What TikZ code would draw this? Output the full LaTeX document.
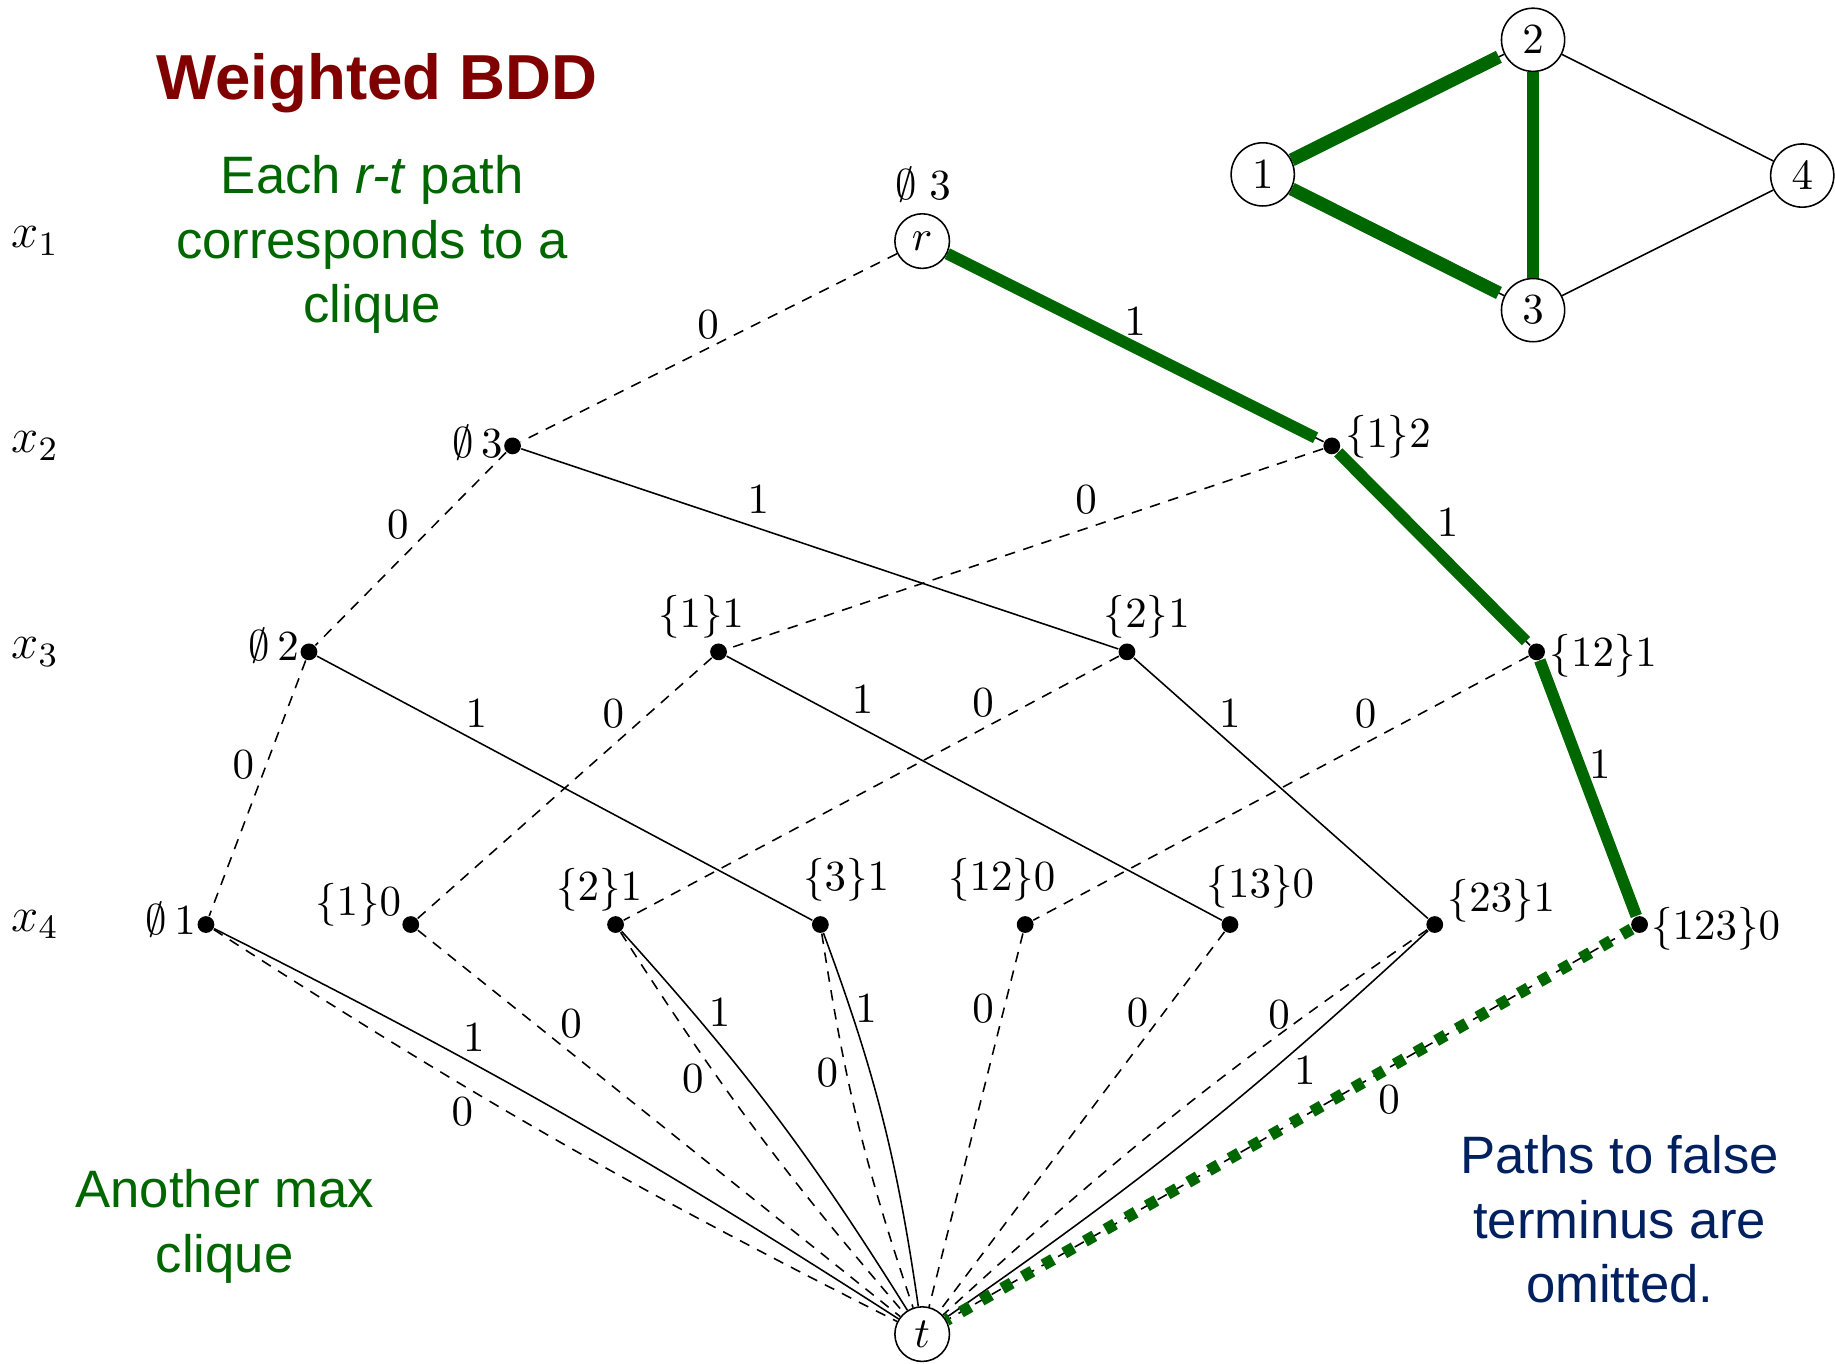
\RequirePackage{fix-cm}
\documentclass[tikz,border=0pt]{standalone}
\usepackage{fontspec}
\newfontfamily\arial{Liberation Sans}
\definecolor{dred}{RGB}{128,0,0}
\definecolor{hgreen}{RGB}{0,102,0}
\definecolor{navy}{RGB}{0,32,96}
\newcommand{\bddf}{\fontsize{11}{13}\selectfont}
\newcommand{\varf}{\fontsize{12.5}{14}\selectfont}
\newcommand{\txtf}{\fontsize{13.5}{16.5}\selectfont}
\begin{document}
\begin{tikzpicture}[x=0.3pt,y=-0.3pt,line width=0.4pt,
  bnode/.style={circle,fill=black,inner sep=0pt,minimum size=4.3pt},
  cnode/.style={circle,draw,inner sep=0pt,minimum size=14pt,font=\bddf},
  gnode/.style={circle,draw,inner sep=0pt,minimum size=16.2pt,font=\bddf},
  lbl/.style={inner sep=0pt,font=\bddf},
  varlbl/.style={inner sep=0pt,font=\varf},
  zero/.style={dash pattern=on 2.7pt off 2.2pt},
  hi/.style={line width=3pt,draw=hgreen},
  hidot/.style={line width=3pt,draw=hgreen,dash pattern=on 2.8pt off 3.3pt},
  txt/.style={inner sep=0pt,align=center,font=\arial\txtf}]
\useasboundingbox (0,0) rectangle (1568,1165);

% ---- texts
\node[inner sep=0pt,anchor=base,text=dred,font=\arial\bfseries\fontsize{16.3}{20}\selectfont] (title) at (322,85) {Weighted BDD};
\node[txt,text=hgreen] (note1) at (318,209) {Each \textit{r-t} path\\corresponds to a\\clique};
\node[txt,text=hgreen] (note2) at (192,1048) {Another max\\clique};
\node[txt,text=navy] (note3) at (1384,1042) {Paths to false\\terminus are\\omitted.};

% ---- variable labels
\node[varlbl] (v1) at (30,206) {$x_1$};
\node[varlbl] (v2) at (30,381) {$x_2$};
\node[varlbl] (v3) at (30,557) {$x_3$};
\node[varlbl] (v4) at (30,790) {$x_4$};

% ---- BDD nodes
\node[cnode] (r) at (788,206) {$r$};
\node[bnode] (a2) at (438,381) {};
\node[bnode] (b2) at (1138,381) {};
\node[bnode] (a3) at (264,557) {};
\node[bnode] (b3) at (614,557) {};
\node[bnode] (c3) at (963,557) {};
\node[bnode] (d3) at (1313,557) {};
\node[bnode] (a4) at (176,790) {};
\node[bnode] (b4) at (351,790) {};
\node[bnode] (c4) at (526,790) {};
\node[bnode] (d4) at (701,790) {};
\node[bnode] (e4) at (876,790) {};
\node[bnode] (f4) at (1051,790) {};
\node[bnode] (g4) at (1226,790) {};
\node[bnode] (h4) at (1401,790) {};
\node[cnode] (t) at (788,1140) {$t$};

% ---- node labels
\node[lbl] (lr) at (789,158) {$\emptyset\;3$};
\node[lbl] (la2) at (408,378) {$\emptyset\,3$};
\node[lbl] (lb2) at (1186,373) {$\{1\}2$};
\node[lbl] (la3) at (234,552) {$\emptyset\,2$};
\node[lbl] (lb3) at (599,527) {$\{1\}1$};
\node[lbl] (lc3) at (980,527) {$\{2\}1$};
\node[lbl] (ld3) at (1370,560) {$\{12\}1$};
\node[lbl] (la4) at (146,786) {$\emptyset\,1$};
\node[lbl] (lb4) at (306,773) {$\{1\}0$};
\node[lbl] (lc4) at (512,760) {$\{2\}1$};
\node[lbl] (ld4) at (723,752) {$\{3\}1$};
\node[lbl] (le4) at (856,752) {$\{12\}0$};
\node[lbl] (lf4) at (1077,758) {$\{13\}0$};
\node[lbl] (lg4) at (1283,770) {$\{23\}1$};
\node[lbl] (lh4) at (1466,794) {$\{123\}0$};

% ---- edges between levels
\draw[zero] (r) -- (a2);
\draw (r) -- (b2);
\draw[zero] (a2) -- (a3);
\draw (a2) -- (c3);
\draw[zero] (b2) -- (b3);
\draw (b2) -- (d3);
\draw[zero] (a3) -- (a4);
\draw (a3) -- (d4);
\draw[zero] (b3) -- (b4);
\draw (b3) -- (f4);
\draw[zero] (c3) -- (c4);
\draw (c3) -- (g4);
\draw[zero] (d3) -- (e4);
\draw (d3) -- (h4);

% ---- edges to terminal
\draw (a4) to[bend left=3] (t);
\draw[zero] (a4) to[bend right=3] (t);
\draw[zero] (b4) -- (t);
\draw (c4) to[bend left=5] (t);
\draw[zero] (c4) to[bend right=4] (t);
\draw (d4) to[bend left=6] (t);
\draw[zero] (d4) to[bend right=5] (t);
\draw[zero] (e4) -- (t);
\draw[zero] (f4) -- (t);
\draw (g4) to[bend left=4] (t);
\draw[zero] (g4) to[bend right=4] (t);
\draw[zero] (h4) -- (t);

% ---- highlighted path
\draw[hi,shorten >=2.3pt] (r) -- (b2);
\draw[hi,shorten >=1.5pt] (b2) -- (d3);
\draw[hi] (d3) -- (h4);
\draw[hidot] (h4) -- (t);

% ---- edge labels
\node[lbl] (e1) at (605,277) {$0$};
\node[lbl] (e2) at (970,275) {$1$};
\node[lbl] (e3) at (340,448) {$0$};
\node[lbl] (e4) at (648,427) {$1$};
\node[lbl] (e5) at (928,427) {$0$};
\node[lbl] (e6) at (1237,447) {$1$};
\node[lbl] (e7) at (208,653) {$0$};
\node[lbl] (e8) at (407,610) {$1$};
\node[lbl] (e9) at (524,610) {$0$};
\node[lbl] (e10) at (737,598) {$1$};
\node[lbl] (e11) at (840,600) {$0$};
\node[lbl] (e12) at (1051,610) {$1$};
\node[lbl] (e13) at (1167,610) {$0$};
\node[lbl] (e14) at (1367,653) {$1$};
\node[lbl] (e15) at (405,887) {$1$};
\node[lbl] (e16) at (395,950) {$0$};
\node[lbl] (e17) at (488,875) {$0$};
\node[lbl] (e18) at (615,865) {$1$};
\node[lbl] (e19) at (592,922) {$0$};
\node[lbl] (e20) at (740,862) {$1$};
\node[lbl] (e21) at (707,917) {$0$};
\node[lbl] (e22) at (840,862) {$0$};
\node[lbl] (e23) at (972,865) {$0$};
\node[lbl] (e24) at (1093,867) {$0$};
\node[lbl] (e25) at (1115,915) {$1$};
\node[lbl] (e26) at (1187,940) {$0$};

% ---- small graph
\node[gnode] (g1) at (1079,149) {$1$};
\node[gnode] (g2) at (1310,34) {$2$};
\node[gnode] (g3) at (1310,265) {$3$};
\node[gnode] (g4n) at (1540,150) {$4$};
\draw (g1) -- (g2);
\draw (g1) -- (g3);
\draw (g2) -- (g3);
\draw (g2) -- (g4n);
\draw (g3) -- (g4n);
\draw[hi,line width=3.4pt,shorten >=1.5pt] (g1) -- (g2);
\draw[hi,line width=3.4pt,shorten >=1.5pt] (g1) -- (g3);
\draw[hi,line width=2.9pt] (g2) -- (g3);
\end{tikzpicture}
\end{document}
